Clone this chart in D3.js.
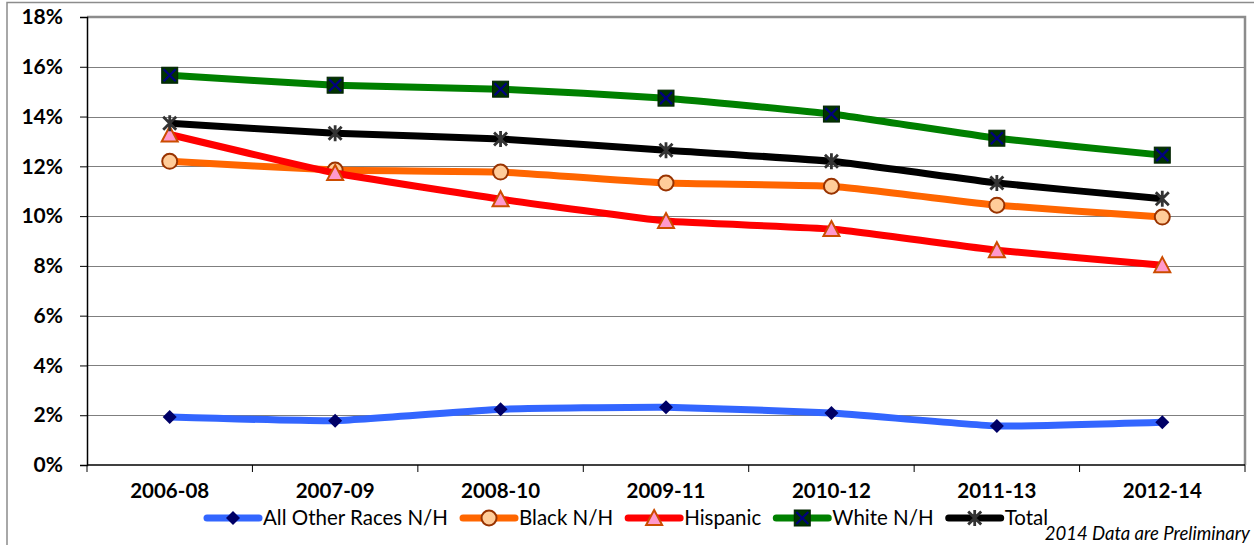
<!DOCTYPE html>
<html>
<head>
<meta charset="utf-8">
<script src="https://cdn.jsdelivr.net/npm/d3@7"></script>
<style>
  html, body { margin: 0; padding: 0; background: #fff; }
  svg { display: block; }
</style>
</head>
<body>
<svg id="chart" width="1254" height="545"></svg>
<script>
// Three-year rolling periods
const periods = ["2006-08", "2007-09", "2008-10", "2009-11", "2010-12", "2011-13", "2012-14"];

// Rates by group (fraction of population)
const otherRaces = [0.0193, 0.0178, 0.0224, 0.0232, 0.0209, 0.0157, 0.0172];
const blackNH    = [0.1220, 0.1185, 0.1177, 0.1133, 0.1120, 0.1044, 0.0996];
const hispanic   = [0.1328, 0.1173, 0.1068, 0.0980, 0.0948, 0.0863, 0.0803];
const whiteNH    = [0.1566, 0.1526, 0.1510, 0.1474, 0.1410, 0.1313, 0.1245];
const total      = [0.1373, 0.1333, 0.1310, 0.1265, 0.1220, 0.1133, 0.1070];

const yTicks = [0, 0.02, 0.04, 0.06, 0.08, 0.10, 0.12, 0.14, 0.16, 0.18];

const series = [
  { name: "All Other Races N/H", values: otherRaces, color: "#3366FF", marker: "diamond" },
  { name: "Black N/H",           values: blackNH,    color: "#FF6600", marker: "circle" },
  { name: "Hispanic",            values: hispanic,   color: "#FF0000", marker: "triangle" },
  { name: "White N/H",           values: whiteNH,    color: "#008000", marker: "square" },
  { name: "Total",               values: total,      color: "#000000", marker: "star" }
];

const FONT = "Lato, 'Open Sans', sans-serif";
const svg = d3.select("#chart");
const plot = { left: 87, right: 1245, top: 17, bottom: 465 };

const x = d3.scaleBand().domain(periods).range([plot.left, plot.right]).padding(0);
const y = d3.scaleLinear().domain([0, 0.18]).range([plot.bottom, plot.top]);
const cx = p => x(p) + x.bandwidth() / 2;

// Outer chart frame
svg.append("path")
  .attr("d", `M7,545 L7,2.5 L1254,2.5`)
  .attr("fill", "none").attr("stroke", "#8c8c8c").attr("stroke-width", 1.5);

// Horizontal gridlines
svg.append("g").selectAll("line")
  .data(yTicks.filter(t => t > 0 && t < 0.18))
  .join("line")
  .attr("x1", plot.left).attr("x2", plot.right)
  .attr("y1", d => Math.round(y(d)) + 0.5).attr("y2", d => Math.round(y(d)) + 0.5)
  .attr("stroke", "#7f7f7f").attr("stroke-width", 1);

// Plot area border (top and right)
svg.append("path")
  .attr("d", `M${plot.left},${plot.top} L${plot.right},${plot.top} L${plot.right},${plot.bottom}`)
  .attr("fill", "none").attr("stroke", "#8c8c8c").attr("stroke-width", 2.5);

// Y axis
const yAxis = d3.axisLeft(y).tickValues(yTicks).tickFormat(d3.format(".0%"))
  .tickSize(7).tickPadding(17);
const gy = svg.append("g").attr("transform", `translate(${plot.left},0)`).call(yAxis);
gy.select(".domain").attr("stroke", "#000").attr("stroke-width", 1.5);
gy.selectAll(".tick line").attr("stroke", "#000");
gy.selectAll(".tick text")
  .attr("font-family", FONT)
  .attr("font-weight", "bold").attr("font-size", 21).attr("fill", "#000");

// X axis: tick marks at category boundaries
const gx = svg.append("g").attr("transform", `translate(0,${plot.bottom})`);
gx.append("line").attr("x1", plot.left).attr("x2", plot.right)
  .attr("stroke", "#000").attr("stroke-width", 1.5);
const bounds = periods.map(p => x(p)).concat([plot.right]);
gx.selectAll("line.tick").data(bounds).join("line").attr("class", "tick")
  .attr("x1", d => d).attr("x2", d => d).attr("y1", 0).attr("y2", 7)
  .attr("stroke", "#000").attr("stroke-width", 1);
gx.selectAll("text").data(periods).join("text")
  .attr("x", d => cx(d)).attr("y", 33)
  .attr("text-anchor", "middle")
  .attr("font-family", FONT)
  .attr("font-weight", "bold").attr("font-size", 20.5).attr("fill", "#000")
  .text(d => d);

// Marker drawing
function drawMarker(g, type) {
  if (type === "diamond") {
    g.append("path").attr("d", "M0,-7 L7,0 L0,7 L-7,0 Z").attr("fill", "#000066");
  } else if (type === "circle") {
    g.append("circle").attr("r", 7.5).attr("fill", "#FFCC99")
      .attr("stroke", "#993300").attr("stroke-width", 2);
  } else if (type === "triangle") {
    g.append("path").attr("d", "M0,-8 L8,7 L-8,7 Z").attr("fill", "#FF99CC")
      .attr("stroke", "#CC4C00").attr("stroke-width", 2).attr("stroke-linejoin", "miter");
  } else if (type === "square") {
    g.append("rect").attr("x", -8).attr("y", -8).attr("width", 16).attr("height", 16)
      .attr("fill", "#003300").attr("stroke", "#002200").attr("stroke-width", 1);
    g.append("path").attr("d", "M-6,-6 L6,6 M6,-6 L-6,6")
      .attr("stroke", "#000080").attr("stroke-width", 2.2);
  } else if (type === "star") {
    g.append("path").attr("d", "M-6.5,-6.5 L6.5,6.5 M6.5,-6.5 L-6.5,6.5 M0,-8 L0,8")
      .attr("stroke", "#333333").attr("stroke-width", 2.8);
  }
}

// Gently smoothed series lines
const line = d3.line()
  .x((d, i) => cx(periods[i]))
  .y(d => y(d))
  .curve(d3.curveCardinal.tension(0.6));

series.forEach(s => {
  const g = svg.append("g");
  g.append("path").datum(s.values).attr("d", line)
    .attr("fill", "none").attr("stroke", s.color).attr("stroke-width", 7)
    .attr("stroke-linejoin", "round");
  s.values.forEach((v, i) => {
    const m = g.append("g").attr("transform", `translate(${cx(periods[i])},${y(v)})`);
    drawMarker(m, s.marker);
  });
});

// Legend
const legend = svg.append("g").attr("transform", "translate(203,518)");
let lx = 0;
series.forEach(s => {
  const item = legend.append("g").attr("transform", `translate(${lx},0)`);
  item.append("line").attr("x1", 4).attr("x2", 56).attr("y1", 0).attr("y2", 0)
    .attr("stroke", s.color).attr("stroke-width", 7).attr("stroke-linecap", "round");
  drawMarker(item.append("g").attr("transform", "translate(30,0)"), s.marker);
  const t = item.append("text").attr("x", 60).attr("y", 7)
    .attr("font-family", FONT)
    .attr("font-size", 20.5).attr("fill", "#000").text(s.name);
  lx += 60 + t.node().getComputedTextLength() + 11;
});

// Footnote
svg.append("text").attr("x", 1250).attr("y", 540).attr("text-anchor", "end")
  .attr("font-family", FONT)
  .attr("font-style", "italic").attr("font-size", 18.5).attr("fill", "#000")
  .text("2014 Data are Preliminary");
</script>
</body>
</html>
